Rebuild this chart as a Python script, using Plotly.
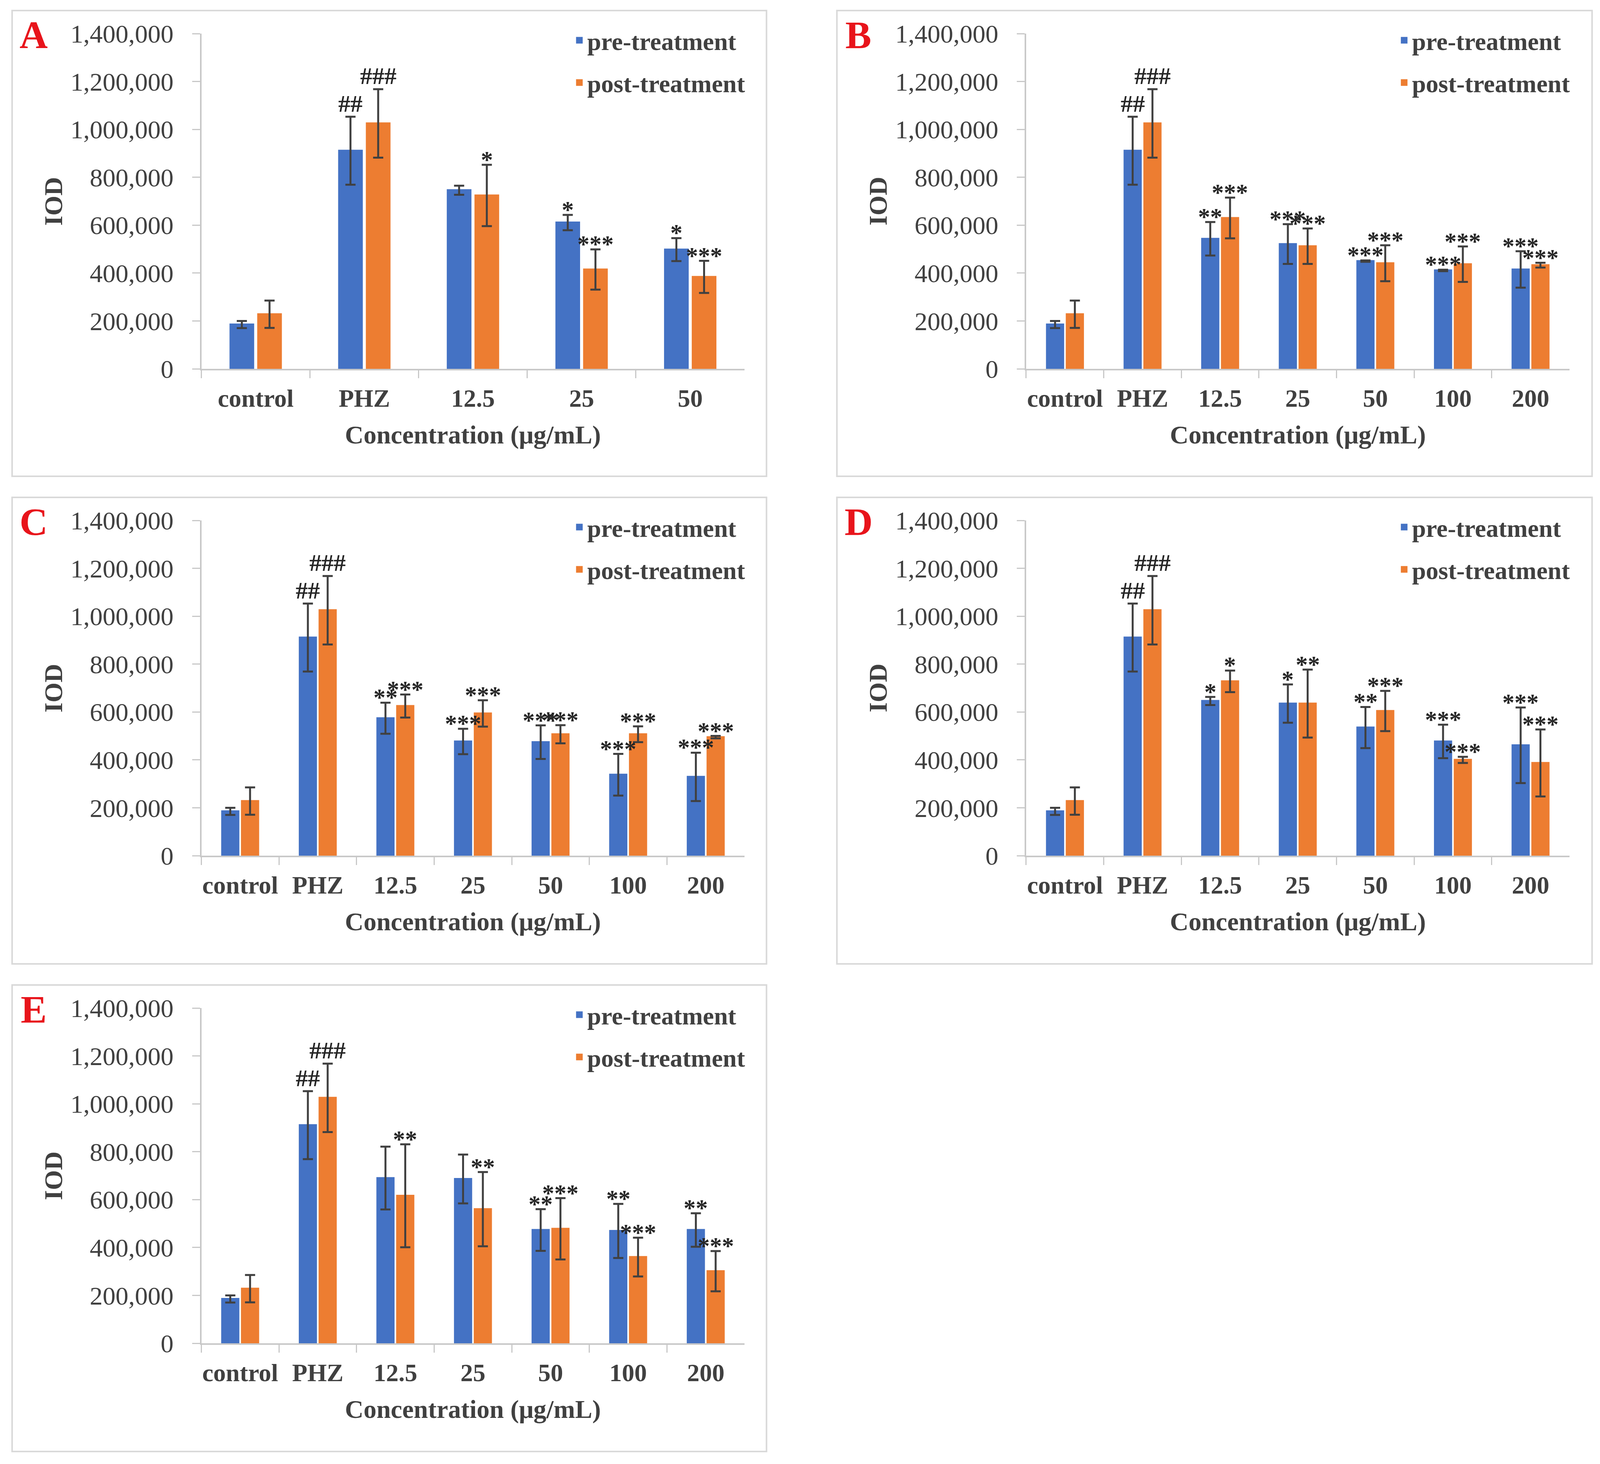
import plotly.graph_objects as go

# ---------------- data ----------------
cats5 = ["control", "PHZ", "12.5", "25", "50"]
cats7 = ["control", "PHZ", "12.5", "25", "50", "100", "200"]

A_pre = [185000, 911000, 746000, 611000, 498000]
A_pre_err = [15000, 142000, 19000, 32000, 48000]
A_post = [228000, 1025000, 724000, 415000, 384000]
A_post_err = [57000, 143000, 128000, 84000, 67000]
A_pre_sig = ["", "##", "", "*", "*"]
A_post_sig = ["", "###", "*", "***", "***"]

B_pre = [185000, 911000, 543000, 521000, 450000, 411000, 415000]
B_pre_err = [15000, 142000, 70000, 83000, 3000, 3000, 76000]
B_post = [228000, 1025000, 630000, 512000, 441000, 437000, 433000]
B_post_err = [57000, 143000, 85000, 74000, 75000, 74000, 10000]
B_pre_sig = ["", "##", "**", "***", "***", "***", "***"]
B_post_sig = ["", "###", "***", "***", "***", "***", "***"]

C_pre = [185000, 911000, 574000, 477000, 474000, 338000, 329000]
C_pre_err = [15000, 142000, 65000, 53000, 70000, 87000, 101000]
C_post = [228000, 1025000, 625000, 594000, 507000, 507000, 495000]
C_post_err = [57000, 143000, 48000, 55000, 38000, 33000, 5000]
C_pre_sig = ["", "##", "**", "***", "***", "***", "***"]
C_post_sig = ["", "###", "***", "***", "***", "***", "***"]

D_pre = [185000, 911000, 646000, 635000, 535000, 477000, 461000]
D_pre_err = [15000, 142000, 17000, 80000, 86000, 70000, 158000]
D_post = [228000, 1025000, 728000, 635000, 604000, 400000, 387000]
D_post_err = [57000, 143000, 45000, 142000, 84000, 13000, 140000]
D_pre_sig = ["", "##", "*", "*", "**", "***", "***"]
D_post_sig = ["", "###", "*", "**", "***", "***", "***"]

E_pre = [185000, 911000, 690000, 686000, 473000, 469000, 473000]
E_pre_err = [15000, 142000, 131000, 102000, 87000, 113000, 70000]
E_post = [228000, 1025000, 616000, 560000, 478000, 360000, 301000]
E_post_err = [57000, 143000, 215000, 155000, 128000, 81000, 84000]
E_pre_sig = ["", "##", "", "", "**", "**", "**"]
E_post_sig = ["", "###", "**", "**", "***", "***", "***"]

panel_letters = ["A", "B", "C", "D", "E"]
panel_cats = [cats5, cats7, cats7, cats7, cats7]
panel_pre = [A_pre, B_pre, C_pre, D_pre, E_pre]
panel_pre_err = [A_pre_err, B_pre_err, C_pre_err, D_pre_err, E_pre_err]
panel_post = [A_post, B_post, C_post, D_post, E_post]
panel_post_err = [A_post_err, B_post_err, C_post_err, D_post_err, E_post_err]
panel_pre_sig = [A_pre_sig, B_pre_sig, C_pre_sig, D_pre_sig, E_pre_sig]
panel_post_sig = [A_post_sig, B_post_sig, C_post_sig, D_post_sig, E_post_sig]

series_names = ["pre-treatment", "post-treatment"]
y_title = "IOD"
x_title = "Concentration (μg/mL)"

# ---------------- style / layout ----------------
W, H = 4227, 3747
BLUE = "#4472C4"
ORANGE = "#ED7D31"
ERR = "#404040"
TXT = "#404040"
AXC = "#C8C8C8"
FONT = "Liberation Serif"

boxes = [(32, 27, 2025, 1219), (2211, 27, 4206, 1219),
         (32, 1273, 2025, 2467), (2211, 1273, 4206, 2467),
         (32, 2521, 2025, 3715)]
PL, PR, PT, PB = 500, 1935, 59, 917
BARGAP = 0.49

fig = go.Figure()
layout = dict(
    width=W, height=H,
    margin=dict(l=0, r=0, t=0, b=0, pad=0, autoexpand=False),
    paper_bgcolor="white", plot_bgcolor="white",
    barmode="group", bargap=BARGAP, bargroupgap=0.18,
    font=dict(family=FONT, size=64, color=TXT, weight="bold"),
    showlegend=True,
)
annotations = []
shapes = []

def px(xp):
    return xp / W

def py(yp):
    return 1 - yp / H

for i, letter in enumerate(panel_letters):
    suf = "" if i == 0 else str(i + 1)
    left, top, right, bottom = boxes[i]
    cats = panel_cats[i]
    xa, ya = "x" + suf, "y" + suf
    lg = "legend" + suf

    for name, vals, errs, color in [
        (series_names[0], panel_pre[i], panel_pre_err[i], BLUE),
        (series_names[1], panel_post[i], panel_post_err[i], ORANGE),
    ]:
        fig.add_trace(go.Bar(
            x=cats, y=vals, name=name,
            marker=dict(color=color, line=dict(width=5, color=color)),
            error_y=dict(type="data", array=errs, visible=True, color=ERR,
                         thickness=5, width=13),
            xaxis=xa, yaxis=ya, legend=lg, legendgroup=letter + name,
        ))

    layout["xaxis" + suf] = dict(
        domain=[px(left + PL), px(left + PR)], anchor=ya, type="category",
        showline=True, linecolor=AXC, linewidth=4, ticks="outside",
        tickson="boundaries", ticklen=20, tickwidth=3, tickcolor=AXC,
        showgrid=False, zeroline=False, ticklabelstandoff=16, tickangle=0,
        tickfont=dict(family=FONT, size=64, color=TXT, weight="bold"),
        fixedrange=True, automargin=False,
    )
    layout["yaxis" + suf] = dict(
        domain=[py(top + PB), py(top + PT)], anchor=xa, range=[0, 1400000],
        dtick=200000, tickformat=",d", showline=True, linecolor=AXC,
        linewidth=4, ticks="outside", ticklen=20, tickwidth=3, tickcolor=AXC,
        showgrid=False, zeroline=False, ticklabelstandoff=34,
        tickfont=dict(family=FONT, size=66, color=TXT, weight="normal"),
        fixedrange=True, automargin=False,
    )
    layout[lg] = dict(
        x=px(left + 1478), y=py(top + 28), xanchor="left", yanchor="top",
        bgcolor="rgba(0,0,0,0)", borderwidth=0, tracegroupgap=22,
        font=dict(family=FONT, size=64, color=TXT, weight="bold"),
        itemwidth=30,
    )

    off = (1 - BARGAP) / 4
    for sigs, vals, errs, sgn in [
        (panel_pre_sig[i], panel_pre[i], panel_pre_err[i], -1),
        (panel_post_sig[i], panel_post[i], panel_post_err[i], 1),
    ]:
        for j, s in enumerate(sigs):
            if not s:
                continue
            annotations.append(dict(
                xref=xa, yref=ya, x=j + sgn * off, y=vals[j] + errs[j],
                text=s, showarrow=False, xanchor="center", yanchor="bottom",
                yshift=-22 if "*" in s else -2,
                font=dict(family=FONT, size=62, color="#262626"),
            ))

    annotations.append(dict(
        xref="paper", yref="paper", x=px(left + 57), y=py(top + 62),
        text=letter, showarrow=False, xanchor="center", yanchor="middle",
        font=dict(family=FONT, size=100, color="#E8141B", weight="bold"),
    ))
    annotations.append(dict(
        xref="paper", yref="paper", x=px(left + 108), y=py(top + (PT + PB) / 2),
        text=y_title, textangle=-90, showarrow=False, xanchor="center",
        yanchor="middle", font=dict(family=FONT, size=66, color=TXT, weight="bold"),
    ))
    annotations.append(dict(
        xref="paper", yref="paper", x=px(left + (PL + PR) / 2), y=py(top + 1086),
        text=x_title, showarrow=False, xanchor="center", yanchor="middle",
        font=dict(family=FONT, size=66, color=TXT, weight="bold"),
    ))
    shapes.append(dict(
        type="rect", xref="paper", yref="paper",
        x0=px(left), x1=px(right), y0=py(bottom), y1=py(top),
        line=dict(color="#D9D9D9", width=4), fillcolor="rgba(0,0,0,0)",
    ))

layout["annotations"] = annotations
layout["shapes"] = shapes
fig.update_layout(**layout)

# make the figure fill the browser viewport exactly (no page margin / scrolling)
post = (
    "var gd = document.getElementById('{plot_id}');"
    "document.documentElement.style.overflow = 'hidden';"
    "document.body.style.margin = '0px';"
    "document.body.style.overflow = 'hidden';"
    "gd.style.position = 'fixed';"
    "gd.style.left = '0px';"
    "gd.style.top = '0px';"
    "var vw = window.innerWidth || 4227;"
    "var vh = window.innerHeight || 3747;"
    "Plotly.relayout(gd, {width: vw, height: vh});"
)
fig.write_html("out.html", post_script=post, config={"displayModeBar": False})
